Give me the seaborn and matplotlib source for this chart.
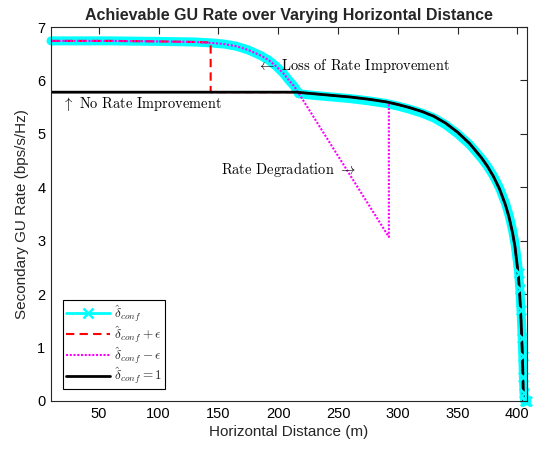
import matplotlib
matplotlib.use("Agg")
import matplotlib.pyplot as plt
from matplotlib.lines import Line2D
import pandas as pd
import seaborn as sns

# Achievable secondary GU rate (bps/s/Hz) versus horizontal distance (m)
dist_conf = [10, 60, 100, 130, 145, 155, 165, 175, 185, 192, 198, 204, 209, 213, 216,
             217, 230, 245, 260, 275, 290, 300, 310, 320, 330, 340, 350, 360, 370,
             375, 380, 385, 390, 393, 396, 398, 400, 401, 402, 403, 404, 404.5, 405,
             405.5, 406, 407, 408]
rate_conf = [6.74, 6.74, 6.73, 6.72, 6.70, 6.68, 6.64, 6.57, 6.47, 6.38, 6.27, 6.14,
             6.00, 5.90, 5.80,
             5.75, 5.72, 5.69, 5.66, 5.62, 5.57, 5.52, 5.46, 5.39, 5.30, 5.17, 5.00,
             4.80, 4.54, 4.39, 4.21, 3.99, 3.70, 3.48, 3.19, 2.94, 2.60, 2.40, 2.10,
             1.70, 1.18, 0.85, 0.45, 0.15, 0.0, 0.0, 0.0]

# delta_conf = 1 (no rate improvement)
dist_one = [10, 100, 200, 215, 230, 245, 260, 275, 290, 300, 310, 320, 330, 340, 350,
            360, 370, 375, 380, 385, 390, 393, 396, 398, 400, 401, 402, 403, 404,
            404.5, 405, 406, 408]
rate_one = [5.78, 5.78, 5.78, 5.78, 5.75, 5.72, 5.69, 5.65, 5.60, 5.55, 5.49, 5.42,
            5.33, 5.20, 5.03, 4.82, 4.55, 4.39, 4.20, 3.97, 3.67, 3.44, 3.14, 2.88,
            2.50, 2.28, 1.96, 1.52, 0.95, 0.55, 0.0, 0.0, 0.0]

# delta_conf + epsilon
dist_plus = [10, 60, 100, 130, 143.5, 143.5, 200, 215, 230, 245, 260, 275, 290, 300,
             310, 320, 330, 340, 350, 360, 370, 375, 380, 385, 390, 393, 396, 398,
             400, 401, 402, 403, 404, 404.5, 405, 406, 408]
rate_plus = [6.74, 6.74, 6.73, 6.72, 6.71, 5.78, 5.78, 5.78, 5.75, 5.72, 5.69, 5.65,
             5.60, 5.55, 5.49, 5.42, 5.33, 5.20, 5.03, 4.82, 4.55, 4.39, 4.20, 3.97,
             3.67, 3.44, 3.14, 2.88, 2.50, 2.28, 1.96, 1.52, 0.95, 0.55, 0.0, 0.0,
             0.0]

# delta_conf - epsilon
dist_minus = [10, 60, 100, 130, 145, 155, 165, 175, 185, 192, 198, 204, 209, 213, 216,
              292.5, 292.5, 300, 310, 320, 330, 340, 350, 360, 370, 375, 380, 385,
              390, 393, 396, 398, 400, 401, 402, 403, 404, 404.5, 405, 406, 408]
rate_minus = [6.74, 6.74, 6.73, 6.72, 6.70, 6.68, 6.64, 6.57, 6.47, 6.38, 6.27, 6.14,
              6.00, 5.90, 5.80,
              3.07, 5.59, 5.55, 5.49, 5.42, 5.33, 5.20, 5.03, 4.82, 4.55, 4.39, 4.20,
              3.97, 3.67, 3.44, 3.14, 2.88, 2.50, 2.28, 1.96, 1.52, 0.95, 0.55, 0.0,
              0.0, 0.0]

x_ticks = [50, 100, 150, 200, 250, 300, 350, 400]
y_ticks = [0, 1, 2, 3, 4, 5, 6, 7]

sns.set_style("white")
plt.rcParams["font.family"] = ["Liberation Sans", "DejaVu Sans"]
plt.rcParams["mathtext.fontset"] = "cm"

fig = plt.figure(figsize=(5.42, 4.55), dpi=100)
ax = fig.add_axes([51 / 542, 1 - 401 / 455, 476 / 542, 374 / 455])

df_conf = pd.DataFrame({"d": dist_conf, "r": rate_conf})
df_plus = pd.DataFrame({"d": dist_plus, "r": rate_plus})
df_minus = pd.DataFrame({"d": dist_minus, "r": rate_minus})
df_one = pd.DataFrame({"d": dist_one, "r": rate_one})

cyan = "#00FFFF"
# thick cyan trace, with its x markers showing along the steep drop
sns.lineplot(data=df_conf, x="d", y="r", ax=ax, sort=False, estimator=None,
             color=cyan, linewidth=6.5, clip_on=False)
steep = df_conf[df_conf["r"] < 2.5]
sns.scatterplot(data=steep, x="d", y="r", ax=ax, marker="x", s=45, color=cyan,
                linewidth=1.8, clip_on=False, zorder=2.5)
sns.lineplot(data=df_plus, x="d", y="r", ax=ax, sort=False, estimator=None,
             color="#FF0000", linewidth=1.5, linestyle=(0, (4, 2.5)))
sns.lineplot(data=df_minus, x="d", y="r", ax=ax, sort=False, estimator=None,
             color="#FF00FF", linewidth=1.5, linestyle=(0, (1, 0.8)))
sns.lineplot(data=df_one, x="d", y="r", ax=ax, sort=False, estimator=None,
             color="black", linewidth=2.0)

ax.set_xlim(10, 408)
ax.set_ylim(0, 7)
ax.set_xticks(x_ticks)
ax.set_yticks(y_ticks)
ax.tick_params(axis="both", direction="in", length=5, width=0.8, colors="#262626",
               labelsize=10.5, top=True, right=True, labelcolor="black", pad=4)
for sp in ax.spines.values():
    sp.set_visible(True)
    sp.set_color("#262626")
    sp.set_linewidth(0.8)

ax.set_xlabel("Horizontal Distance (m)", fontsize=11, labelpad=3)
ax.set_ylabel("Secondary GU Rate (bps/s/Hz)", fontsize=11, labelpad=6)
ax.set_title("Achievable GU Rate over Varying Horizontal Distance",
             fontsize=11.5, fontweight="bold", pad=5)

serif = dict(family="cmr10", fontsize=10.4, color="black", va="center", ha="left")
ax.text(182.5, 6.27, r"$\leftarrow$ Loss of Rate Improvement", **serif)
ax.text(19, 5.56, r"$\uparrow$ No Rate Improvement", **serif)
ax.text(152, 4.34, r"Rate Degradation $\rightarrow$", **serif)

handles = [
    Line2D([], [], color=cyan, linewidth=2, marker="x", markersize=7,
           markeredgewidth=1.8),
    Line2D([], [], color="#FF0000", linewidth=1.5, linestyle=(0, (4, 2.5))),
    Line2D([], [], color="#FF00FF", linewidth=1.5, linestyle=(0, (1, 0.8))),
    Line2D([], [], color="black", linewidth=2.0),
]
labels = [r"$\hat{\delta}_{conf}$", r"$\hat{\delta}_{conf}+\epsilon$",
          r"$\hat{\delta}_{conf}-\epsilon$", r"$\hat{\delta}_{conf}=1$"]
leg = ax.legend(handles, labels, loc="lower left", fontsize=9.5, frameon=True,
                fancybox=False, edgecolor="black", framealpha=1,
                handlelength=3.4, handletextpad=0.3, borderaxespad=0.9,
                labelspacing=0.0, borderpad=0.2, handleheight=0.5)
leg.get_frame().set_linewidth(0.8)

fig.savefig("out.png", dpi=100)
